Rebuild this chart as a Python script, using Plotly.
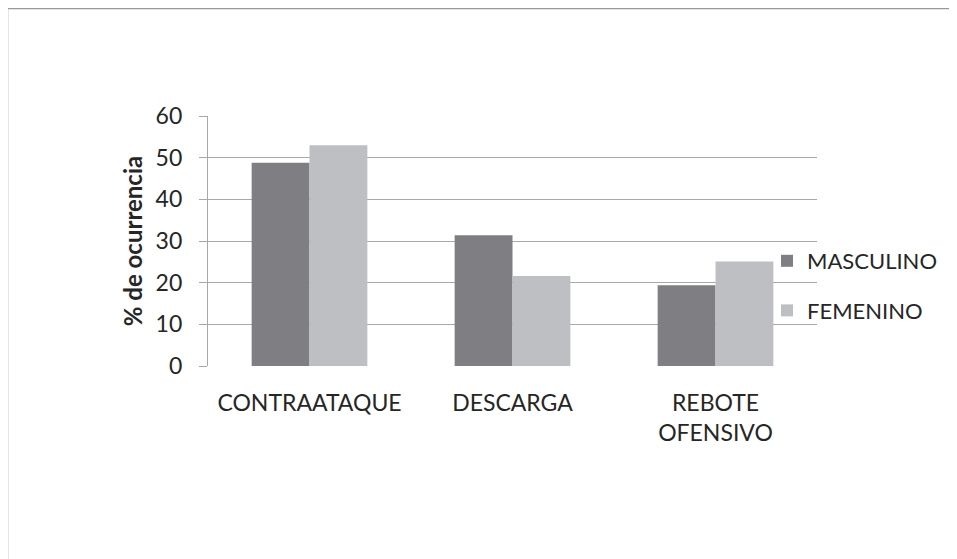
import plotly.graph_objects as go

categories = ["CONTRAATAQUE", "DESCARGA", "REBOTE<br>OFENSIVO"]
masculino = [48.8, 31.4, 19.4]
femenino = [53.0, 21.6, 25.1]
series_names = ["MASCULINO", "FEMENINO"]
y_ticks = [0, 10, 20, 30, 40, 50, 60]

FONT = "Lato, 'Open Sans', sans-serif"
TXT = "#262626"

fig = go.Figure()
fig.add_trace(go.Bar(x=categories, y=masculino, name=series_names[0],
                     marker=dict(color="#7f7f83", line=dict(width=0)),
                     legendgroup="m"))
fig.add_trace(go.Bar(x=categories, y=femenino, name=series_names[1],
                     marker=dict(color="#bebfc3", line=dict(width=0)),
                     legendgroup="f"))

# page body has an 8px default margin; the figure is sized so it ends at the window edge
OFF = 8
W, H = 957 - OFF, 559 - OFF
L, R, T, B = 208 - OFF, 140, 116 - OFF, 193
pw, ph = W - L - R, H - T - B

def px2paper_x(px):
    return (px - OFF - L) / pw

def px2paper_y(py):
    return (OFF + H - B - py) / ph

fig.update_layout(
    width=W, height=H,
    margin=dict(l=L, r=R, t=T, b=B),
    paper_bgcolor="white", plot_bgcolor="white",
    barmode="group", bargap=0.43, bargroupgap=0,
    font=dict(family=FONT, size=23, color=TXT),
    legend=dict(x=px2paper_x(767), xanchor="left",
                y=px2paper_y(286), yanchor="middle",
                font=dict(size=22, color=TXT),
                tracegroupgap=18, bgcolor="rgba(0,0,0,0)", borderwidth=0),
    xaxis=dict(showgrid=False, showline=False, ticks="",
               tickfont=dict(size=23, color=TXT), ticklabelstandoff=21),
    yaxis=dict(range=[0, 60], tickvals=y_ticks, showgrid=True,
               gridcolor="#a8a8a8", gridwidth=1.3,
               showline=True, linecolor="#a8a8a8", linewidth=1.3,
               ticks="outside", ticklen=8, tickcolor="#a8a8a8", tickwidth=1.3,
               tickfont=dict(size=23, color=TXT), ticklabelstandoff=12,
               zeroline=False,
               title=dict(text="<b>% de ocurrencia</b>", font=dict(size=24, color=TXT),
                          standoff=6)),
    shapes=[dict(type="rect", xref="paper", yref="paper",
                 x0=px2paper_x(7.5), x1=px2paper_x(990),
                 y0=px2paper_y(590), y1=px2paper_y(8.5),
                 line=dict(color="#999999", width=1.5), layer="below")],
)

fig.write_html("out.html")
